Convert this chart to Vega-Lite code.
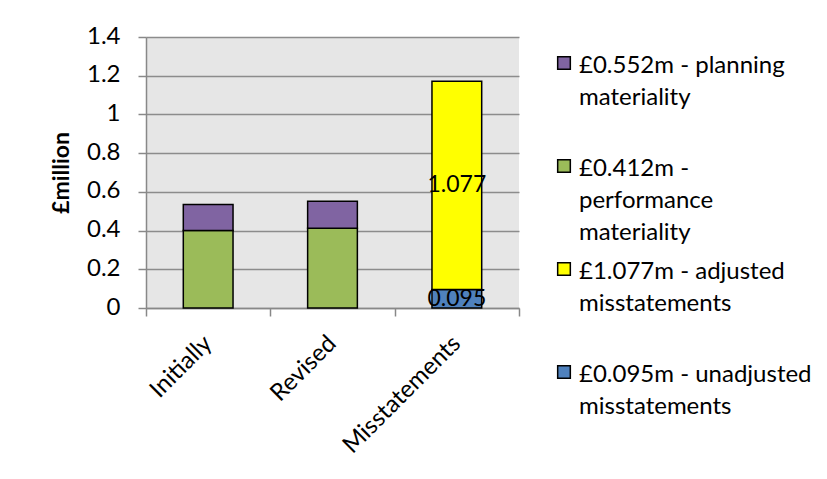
{
  "$schema": "https://vega.github.io/schema/vega-lite/v6.json",
  "autosize": {"type": "none"},
  "padding": {"left": 146, "top": 37, "right": 308, "bottom": 171},
  "width": 373,
  "height": 271,
  "background": "white",
  "data": {
    "values": [
      {"cat": "Initially", "series": "£0.412m - performance materiality", "stack": 1, "value": 0.4},
      {"cat": "Initially", "series": "£0.552m - planning materiality", "stack": 2, "value": 0.135},
      {"cat": "Revised", "series": "£0.412m - performance materiality", "stack": 1, "value": 0.412},
      {"cat": "Revised", "series": "£0.552m - planning materiality", "stack": 2, "value": 0.14},
      {"cat": "Misstatements", "series": "£0.095m - unadjusted misstatements", "stack": 1, "value": 0.095},
      {"cat": "Misstatements", "series": "£1.077m - adjusted misstatements", "stack": 2, "value": 1.077}
    ]
  },
  "transform": [
    {"stack": "value", "groupby": ["cat"], "sort": [{"field": "stack", "order": "ascending"}], "as": ["v0", "v1"]},
    {"calculate": "(datum.v0 + datum.v1) / 2", "as": "mid"}
  ],
  "layer": [
    {
      "mark": {"type": "bar", "stroke": "black", "strokeWidth": 1.5, "width": {"band": 0.4}},
      "encoding": {
        "x": {
          "field": "cat", "type": "nominal", "sort": ["Initially", "Revised", "Misstatements"],
          "scale": {"paddingInner": 0, "paddingOuter": 0},
          "axis": {
            "title": null, "labelAngle": -45, "labelAlign": "right", "labelBaseline": "middle",
            "labelPadding": 30, "labelOffset": 6, "tickBand": "extent", "tickSize": 8,
            "domainColor": "#888888", "tickColor": "#888888", "domainWidth": 1.5, "tickWidth": 1.5,
            "labelFont": "Lato", "labelFontSize": 24, "labelColor": "black", "grid": false
          }
        },
        "y": {
          "field": "v1", "type": "quantitative",
          "scale": {"domain": [0, 1.4], "nice": false},
          "axis": {
            "title": "£million", "values": [0, 0.2, 0.4, 0.6, 0.8, 1, 1.2, 1.4], "tickCount": 8, "format": ".1~f",
            "labelOverlap": false,
            "grid": true, "gridColor": "#8c8c8c", "gridWidth": 1.5,
            "domainColor": "#888888", "tickColor": "#888888", "domainWidth": 1.5, "tickWidth": 1.5,
            "tickSize": 8, "labelPadding": 18, "labelOffset": 8,
            "labelFont": "Lato", "labelFontSize": 24, "labelColor": "black",
            "titleFont": "Lato", "titleFontSize": 23, "titleFontWeight": "bold", "titleColor": "black",
            "titlePadding": 13
          }
        },
        "y2": {"field": "v0"},
        "color": {
          "field": "series", "type": "nominal",
          "scale": {
            "domain": ["£0.552m - planning materiality", "£0.412m - performance materiality", "£1.077m - adjusted misstatements", "£0.095m - unadjusted misstatements"],
            "range": ["#8064A2", "#9BBB59", "#FFFF00", "#4F81BD"]
          },
          "legend": {
            "title": null, "orient": "none", "legendX": 406, "legendY": 14,
            "symbolType": "square", "symbolSize": 160, "symbolStrokeColor": "black", "symbolStrokeWidth": 1.5,
            "labelFont": "Lato", "labelFontSize": 24, "labelColor": "black", "labelBaseline": "top",
            "labelOffset": 3, "labelLimit": 300, "rowPadding": 12, "padding": 0,
            "labelExpr": "datum.label == '£0.552m - planning materiality' ? ['£0.552m - planning', 'materiality', ' '] : datum.label == '£0.412m - performance materiality' ? ['£0.412m -', 'performance', 'materiality'] : datum.label == '£1.077m - adjusted misstatements' ? ['£1.077m - adjusted', 'misstatements', ' '] : ['£0.095m - unadjusted', 'misstatements', ' ']"
          }
        },
        "order": {"field": "stack"}
      }
    },
    {
      "transform": [{"filter": "datum.cat == 'Misstatements'"}],
      "mark": {"type": "text", "font": "Lato", "fontSize": 23, "color": "black", "baseline": "middle"},
      "encoding": {
        "x": {"field": "cat", "type": "nominal", "sort": ["Initially", "Revised", "Misstatements"]},
        "y": {"field": "mid", "type": "quantitative"},
        "text": {"field": "value", "type": "quantitative", "format": ".3f"}
      }
    }
  ],
  "config": {
    "view": {"fill": "#E6E6E6", "stroke": null},
    "style": {"guide-label": {"lineHeight": 32, "dy": -9}}
  }
}
